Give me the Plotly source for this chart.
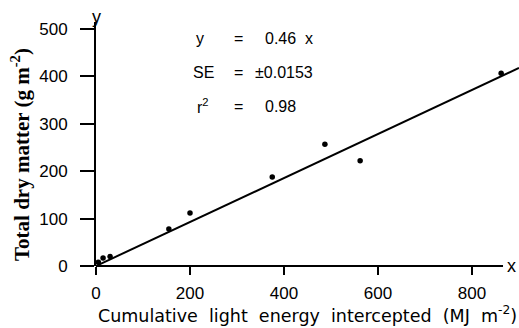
import plotly.graph_objects as go

# Data
light_x = [5, 15, 30, 155, 200, 375, 487, 562, 862]
dry_matter_y = [8, 17, 20, 78, 112, 188, 257, 222, 407]
fit_x = [0, 900]
fit_y = [0, 418]
x_ticks = [0, 200, 400, 600, 800]
y_ticks = [0, 100, 200, 300, 400, 500]

fig = go.Figure()
fig.add_trace(go.Scatter(x=fit_x, y=fit_y, mode="lines",
                         line=dict(color="black", width=2), showlegend=False))
fig.add_trace(go.Scatter(x=light_x, y=dry_matter_y, mode="markers",
                         marker=dict(color="black", size=5.5, symbol="circle"),
                         showlegend=False))

tick_font = dict(family="Liberation Sans, Arial", size=17, color="black")

fig.update_layout(
    width=519, height=328,
    margin=dict(l=96, r=0, t=22, b=62),
    paper_bgcolor="white", plot_bgcolor="white",
    xaxis=dict(range=[0, 900], tickvals=x_ticks, ticks="outside", ticklen=8,
               tickwidth=2, tickcolor="black", showline=False, showgrid=False,
               zeroline=False, tickfont=tick_font, ticklabelstandoff=4,
               title=dict(text="Cumulative  light  energy  intercepted  (MJ  m<sup>-2</sup>)",
                          font=dict(family="DejaVu Sans", size=17.5, color="black"),
                          standoff=1)),
    yaxis=dict(range=[0, 515], tickvals=y_ticks, ticks="outside", ticklen=14,
               tickwidth=2, tickcolor="black", showline=True, linewidth=2,
               linecolor="black", showgrid=False, zeroline=False, tickfont=tick_font,
               ticklabelstandoff=9),
)

# y-axis title, placed as in the reference (slightly below plot centre)
fig.add_annotation(x=(20 - 96) / 423, y=(266 - 155) / 244, xref="paper", yref="paper",
                   text="<b>Total dry matter (g m<sup>-2</sup>)</b>", textangle=-90,
                   showarrow=False, xanchor="center", yanchor="middle",
                   font=dict(family="Liberation Serif, Times New Roman", size=21,
                             color="black"))

# x-axis line (ends before the right edge, like the reference)
fig.add_shape(type="line", xref="paper", yref="paper", x0=0, x1=866/900, y0=0, y1=0,
              line=dict(color="black", width=2))

ann_font = dict(family="Liberation Sans, Arial", size=16, color="black")

def px2x(px):
    return (px - 96) / 423 * 900

def py2y(py):
    return (266 - py) / 244 * 515

labels = [
    ("y", 200, 38), ("=", 238, 38), ("0.46  x", 289, 38),
    ("SE", 203, 72), ("=", 238, 72), ("±0.0153", 284, 72),
    ("r<sup>2</sup>", 203, 106), ("=", 238, 106), ("0.98", 280, 106),
]
for txt, px, py in labels:
    fig.add_annotation(x=px2x(px), y=py2y(py), text=txt, showarrow=False,
                       font=ann_font, xanchor="center", yanchor="middle")

fig.add_annotation(x=0, y=1, xref="x", yref="paper", text="y", showarrow=False,
                   font=dict(family="Liberation Sans, Arial", size=18, color="black"),
                   xanchor="center", yanchor="bottom", yshift=-7)
fig.add_annotation(x=px2x(511), y=0, text="x", showarrow=False,
                   font=dict(family="Liberation Sans, Arial", size=18, color="black"),
                   xanchor="center", yanchor="middle")

fig.write_html("out.html")
